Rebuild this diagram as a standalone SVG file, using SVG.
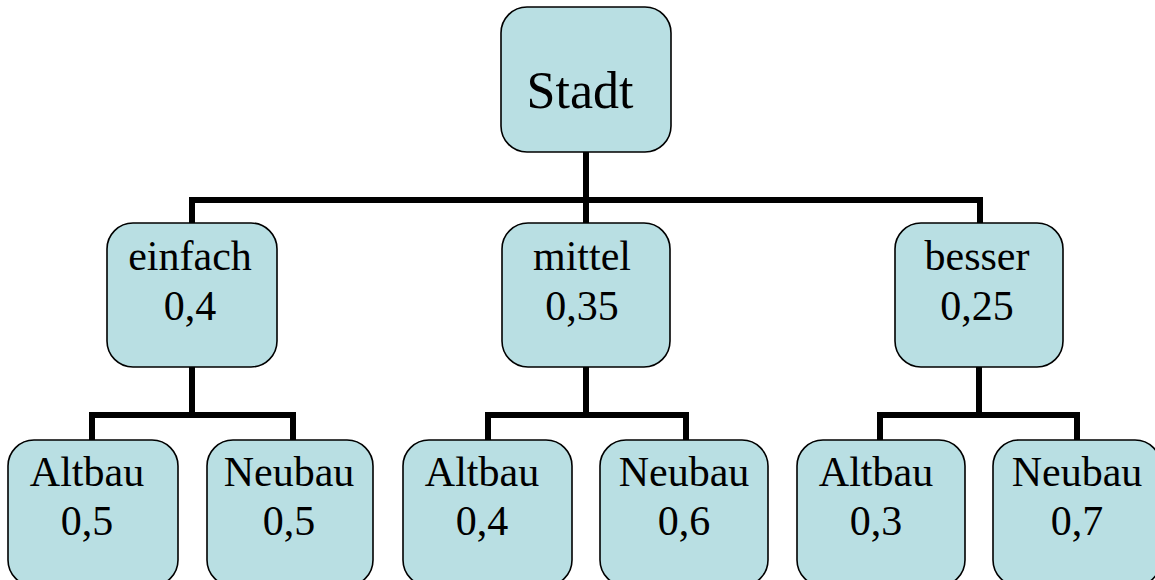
<svg xmlns="http://www.w3.org/2000/svg" width="1155" height="580" viewBox="0 0 1155 580">
<style>
.box{fill:#b9dfe3;stroke:#000;stroke-width:1.6}
.t{font-family:"Liberation Serif","Times New Roman",serif;font-size:42px;fill:#000;text-anchor:middle}
.big{font-size:52px}
.c{fill:none;stroke:#000;stroke-width:6;stroke-linecap:butt;stroke-linejoin:miter}
</style>
<rect width="1155" height="580" fill="#fff"/>
<g id="connectors">
<path class="c" d="M586 152V223M192 226V200H980V226"/>
<path class="c" d="M192 367V415M92 443V415H293V443"/>
<path class="c" d="M586 367V415M488 443V415H686V443"/>
<path class="c" d="M979 367V415M880 443V415H1077V443"/>
</g>
<g id="stadt"><rect class="box" x="501" y="7" width="170" height="145" rx="26"/><text class="t big" x="580" y="108">Stadt</text></g>
<g id="einfach"><rect class="box" x="107" y="223" width="170" height="144" rx="26"/><text class="t" x="190" y="270">einfach</text><text class="t" x="190" y="320">0,4</text></g>
<g id="mittel"><rect class="box" x="502" y="223" width="168" height="144" rx="26"/><text class="t" x="582" y="270">mittel</text><text class="t" x="582" y="320">0,35</text></g>
<g id="besser"><rect class="box" x="895" y="223" width="168" height="144" rx="26"/><text class="t" x="977" y="270">besser</text><text class="t" x="977" y="320">0,25</text></g>
<g id="altbau1"><rect class="box" x="8" y="440" width="170" height="146" rx="26"/><text class="t" x="87" y="486">Altbau</text><text class="t" x="87" y="535">0,5</text></g>
<g id="neubau1"><rect class="box" x="207" y="440" width="166" height="146" rx="26"/><text class="t" x="289" y="486">Neubau</text><text class="t" x="289" y="535">0,5</text></g>
<g id="altbau2"><rect class="box" x="403" y="440" width="169" height="146" rx="26"/><text class="t" x="482" y="486">Altbau</text><text class="t" x="482" y="535">0,4</text></g>
<g id="neubau2"><rect class="box" x="600" y="440" width="168" height="146" rx="26"/><text class="t" x="684" y="486">Neubau</text><text class="t" x="684" y="535">0,6</text></g>
<g id="altbau3"><rect class="box" x="797" y="440" width="168" height="146" rx="26"/><text class="t" x="876" y="486">Altbau</text><text class="t" x="876" y="535">0,3</text></g>
<g id="neubau3"><rect class="box" x="993" y="440" width="168" height="146" rx="26"/><text class="t" x="1077" y="486">Neubau</text><text class="t" x="1077" y="535">0,7</text></g>
</svg>
